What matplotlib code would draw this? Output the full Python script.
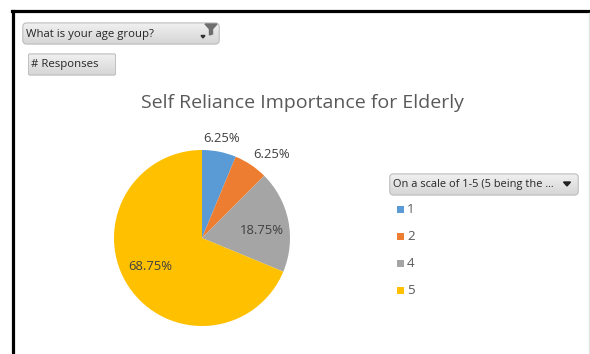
import numpy as np
import matplotlib.pyplot as plt
from matplotlib.patches import FancyBboxPatch, Polygon, Rectangle
from matplotlib.lines import Line2D
from matplotlib.colors import LinearSegmentedColormap

plt.rcParams['font.family'] = ['Open Sans', 'DejaVu Sans']

# responses per rating
ratings = ['1', '2', '4', '5']
responses = [1, 1, 3, 11]
colors = ['#5B9BD5', '#ED7D31', '#A5A5A5', '#FFC000']
title = 'Self Reliance Importance for Elderly'
filter_label = 'What is your age group?'
value_label = '# Responses'
legend_title = 'On a scale of 1-5 (5 being the ...'

W, H = 590, 354
fig = plt.figure(figsize=(W / 100, H / 100), dpi=100)
fig.patch.set_facecolor('white')

btn_cmap = LinearSegmentedColormap.from_list('btn', ['#F2F2F2', '#D4D4D4'])


def fx(x):
    return x / W


def fy(y):
    return 1 - y / H


def button(x0, y0, x1, y1):
    # rounded grey button with a soft vertical gradient
    bax = fig.add_axes([fx(x0), fy(y1), fx(x1 - x0), (y1 - y0) / H])
    bax.set_xlim(0, 1)
    bax.set_ylim(0, 1)
    bax.axis('off')
    grad = np.linspace(0, 1, 64).reshape(-1, 1)
    box = FancyBboxPatch((0.004, 0.04), 0.992, 0.92,
                         boxstyle='round,pad=0,rounding_size=0.02',
                         mutation_aspect=(x1 - x0) / (y1 - y0),
                         transform=bax.transData, facecolor='none',
                         edgecolor='#BDBDBD', lw=0.8, zorder=3)
    im = bax.imshow(grad, extent=(0, 1, 0, 1), aspect='auto',
                    cmap=btn_cmap, origin='upper')
    bax.add_patch(box)
    im.set_clip_path(box)
    return bax


# frame lines
fig.add_artist(Line2D([fx(12), fx(W)], [fy(11), fy(11)], color='black', lw=2.3))
fig.add_artist(Line2D([fx(13), fx(13)], [fy(11), fy(H)], color='black', lw=2.3))
fig.add_artist(Line2D([fx(589), fx(589)], [fy(13), fy(H)], color='#E3E3E3', lw=1))

# field buttons
button(22, 22, 220, 45)
fig.text(fx(26), fy(34), filter_label, fontsize=8.2, color='#262626',
         va='center', ha='left')
fig.add_artist(Polygon([[fx(205), fy(24)], [fx(217), fy(24)], [fx(212.5), fy(29)],
                        [fx(212.5), fy(34)], [fx(209.5), fy(35)], [fx(209.5), fy(29)]],
                       closed=True, color='#6E6E6E'))
fig.add_artist(Polygon([[fx(201), fy(35.5)], [fx(205), fy(35.5)], [fx(203), fy(38)]],
                       closed=True, color='#303030'))

button(28, 53, 116, 76)
fig.text(fx(31), fy(65), value_label, fontsize=8.2, color='#262626',
         va='center', ha='left')

button(389, 173, 579, 196)
fig.text(fx(393), fy(185), legend_title, fontsize=7.9, color='#262626',
         va='center', ha='left')
fig.add_artist(Polygon([[fx(563.5), fy(182)], [fx(570.5), fy(182)], [fx(567), fy(186)]],
                       closed=True, color='#202020'))

# title
fig.text(fx(302), fy(103), title, fontsize=14, color='#595959',
         ha='center', va='center')

# pie
cx, cy, r = 202, 238, 88
ax = fig.add_axes([fx(cx - r), fy(cy + r), 2 * r / W, 2 * r / H])
wedges, _ = ax.pie(responses, colors=colors, startangle=90, counterclock=False,
                   radius=1, wedgeprops=dict(linewidth=0))
ax.set_xlim(-1, 1)
ax.set_ylim(-1, 1)
ax.axis('off')

total = sum(responses)
label_dist = [1.15, 1.24, 0.69, 0.67]
label_shift = [0, -6, -4, -5]
for w, v, d, s in zip(wedges, responses, label_dist, label_shift):
    ang = np.deg2rad((w.theta1 + w.theta2) / 2 + s)
    ax.text(d * np.cos(ang), d * np.sin(ang), f'{v / total * 100:.2f}%',
            ha='center', va='center', fontsize=9.4, color='#404040')

# legend entries
for i, (lab, c) in enumerate(zip(ratings, colors)):
    y = 209.5 + i * 27
    fig.add_artist(Rectangle((fx(397), fy(y + 3.5)), 7 / W, 7 / H,
                             facecolor=c, edgecolor='none'))
    fig.text(fx(407), fy(y), lab, fontsize=9.6, color='#595959',
             ha='left', va='center')

fig.savefig('out.png', dpi=100)
